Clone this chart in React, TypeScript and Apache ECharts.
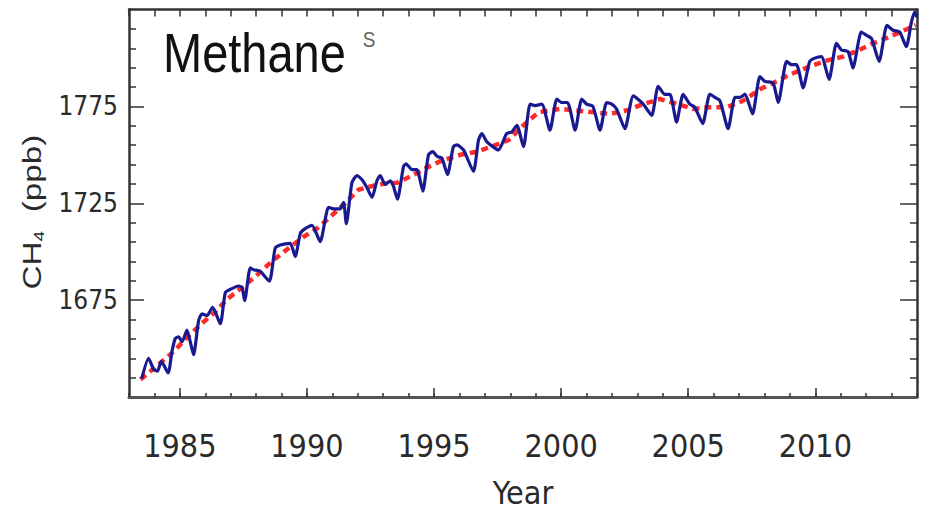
import React, { useEffect, useRef } from "react";
import * as echarts from "echarts";

// ---- data ----
const blueYears = [
  1983.5, 1983.77, 1983.97, 1984.12, 1984.27, 1984.54, 1984.69, 1984.82, 1984.95, 1985.09,
  1985.28, 1985.41, 1985.54, 1985.74, 1985.87, 1986.07, 1986.29, 1986.59, 1986.79, 1986.99,
  1987.31, 1987.45, 1987.55, 1987.77, 1987.9, 1988.16, 1988.52, 1988.75, 1988.95, 1989.34,
  1989.54, 1989.74, 1989.93, 1990.2, 1990.52, 1990.85, 1991.05, 1991.31, 1991.44, 1991.55,
  1991.77, 1991.97, 1992.16, 1992.36, 1992.56, 1992.75, 1992.88, 1993.08, 1993.28, 1993.4,
  1993.56, 1993.8, 1993.9, 1994.13, 1994.32, 1994.56, 1994.78, 1994.95, 1995.13, 1995.31,
  1995.53, 1995.76, 1995.9, 1996.16, 1996.55, 1996.75, 1996.88, 1997.08, 1997.53, 1997.86,
  1998.06, 1998.26, 1998.52, 1998.78, 1998.98, 1999.24, 1999.56, 1999.83, 2000.02, 2000.25,
  2000.55, 2000.81, 2001.0, 2001.25, 2001.53, 2001.79, 2001.99, 2002.18, 2002.51, 2002.84,
  2003.23, 2003.56, 2003.82, 2004.08, 2004.28, 2004.54, 2004.8, 2005.06, 2005.26, 2005.57,
  2005.85, 2006.05, 2006.25, 2006.57, 2006.84, 2007.03, 2007.23, 2007.53, 2007.82, 2008.02,
  2008.34, 2008.54, 2008.87, 2009.07, 2009.26, 2009.52, 2009.78, 2009.98, 2010.24, 2010.54,
  2010.83, 2011.03, 2011.29, 2011.48, 2011.81, 2012.01, 2012.21, 2012.51, 2012.82, 2013.06,
  2013.32, 2013.58, 2013.78, 2013.91, 2014.0,
];
const blueValues = [
  1634.5, 1645.0, 1639.2, 1638.3, 1643.4, 1637.4, 1648.5, 1655.2, 1656.1, 1653.5,
  1659.5, 1653.5, 1646.8, 1664.5, 1667.9, 1667.1, 1671.3, 1662.8, 1678.9, 1680.6,
  1682.3, 1681.4, 1674.7, 1691.6, 1690.7, 1689.9, 1684.8, 1701.7, 1703.4, 1704.3,
  1697.5, 1709.4, 1711.9, 1713.6, 1705.2, 1722.9, 1722.1, 1722.1, 1725.5, 1714.4,
  1735.6, 1739.3, 1737.3, 1733.1, 1728.0, 1736.5, 1739.3, 1734.7, 1736.5, 1733.9,
  1727.1, 1744.0, 1745.4, 1742.4, 1742.4, 1731.3, 1750.0, 1751.6, 1749.1, 1748.3,
  1739.8, 1754.2, 1755.1, 1752.5, 1741.5, 1757.6, 1761.0, 1756.7, 1752.5, 1761.0,
  1761.8, 1765.2, 1754.2, 1776.2, 1775.4, 1776.2, 1762.7, 1778.8, 1777.0, 1777.0,
  1762.7, 1778.8, 1776.2, 1775.0, 1762.7, 1777.0, 1776.2, 1773.7, 1763.5, 1780.4,
  1776.2, 1770.3, 1785.4, 1781.2, 1781.2, 1766.9, 1781.2, 1776.2, 1774.5, 1766.1,
  1781.3, 1779.6, 1777.9, 1763.5, 1779.6, 1779.6, 1781.3, 1771.1, 1790.4, 1787.9,
  1787.0, 1777.0, 1798.2, 1796.5, 1796.5, 1784.6, 1798.2, 1799.9, 1800.7, 1788.9,
  1807.5, 1804.1, 1803.3, 1794.8, 1813.4, 1811.7, 1810.0, 1798.2, 1816.8, 1814.3,
  1813.4, 1805.8, 1818.5, 1823.6, 1821.0,
];

const trendYears = [
  1983.45, 1984.0, 1984.76, 1985.3, 1985.87, 1986.4, 1986.86, 1987.5, 1988.04, 1988.62,
  1989.2, 1989.87, 1990.4, 1990.92, 1991.5, 1992.03, 1992.6, 1993.0, 1993.54, 1994.1,
  1994.65, 1995.3, 1996.03, 1996.68, 1997.2, 1997.93, 1998.5, 1999.11, 1999.96, 2000.9,
  2001.93, 2002.6, 2003.23, 2003.88, 2004.5, 2005.2, 2005.85, 2006.51, 2007.16, 2007.82,
  2008.48, 2009.0, 2009.78, 2010.4, 2011.09, 2011.7, 2012.27, 2012.92, 2013.64, 2013.95,
];
const trendValues = [
  1634, 1640, 1648.5, 1656, 1663, 1669, 1675.5, 1682, 1688, 1695,
  1701, 1707.7, 1712, 1718, 1725, 1732, 1734, 1735, 1735.6, 1739,
  1743, 1747, 1750, 1751.6, 1754, 1757.6, 1765, 1772, 1773.7, 1772.5,
  1771.1, 1773, 1776.2, 1778.8, 1776.5, 1773.7, 1774.5, 1774.5, 1777.9, 1783.8,
  1788, 1791.4, 1795.6, 1798.5, 1800.7, 1804, 1807.5, 1810.9, 1815.1, 1817,
];

const xMajorTicks = [1985, 1990, 1995, 2000, 2005, 2010];
const yMajorTicks = [1675, 1725, 1775];
const yMinorTicks = [
  1635, 1645, 1655, 1665, 1685, 1695, 1705, 1715, 1735, 1745,
  1755, 1765, 1785, 1795, 1805, 1815,
];

const X_MIN = 1983;
const X_MAX = 2014;
const Y_MIN = 1625;
const Y_MAX = 1825;

const NARROW = '"Liberation Sans Narrow", "Arial Narrow", "DejaVu Sans Condensed", sans-serif';
const SANS = '"Liberation Sans", Arial, Helvetica, sans-serif';

const plain = (v: number) => String(Math.round(v));

export default function App() {
  const ref = useRef<HTMLDivElement>(null);

  useEffect(() => {
    if (!ref.current) return;
    const chart = echarts.init(ref.current, null, { renderer: "svg" });

    const bluePairs = blueYears.map((y, i) => [y, blueValues[i]]);
    const trendPairs = trendYears.map((y, i) => [y, trendValues[i]]);

    const baseX = { type: "value" as const, min: X_MIN, max: X_MAX, splitLine: { show: false } };
    const baseY = { type: "value" as const, min: Y_MIN, max: Y_MAX, splitLine: { show: false } };

    chart.setOption({
      animation: false,
      backgroundColor: "#ffffff",
      grid: { left: 129, right: 10, top: 9.5, bottom: 111.5 },
      xAxis: [
        {
          ...baseX,
          position: "bottom",
          interval: 1,
          axisLine: { show: true, lineStyle: { color: "#555", width: 3 } },
          axisTick: { show: true, inside: true, length: 4, lineStyle: { color: "#333", width: 1.5 } },
          axisLabel: {
            show: true,
            customValues: xMajorTicks,
            formatter: plain,
            fontFamily: NARROW,
            fontSize: 32,
            color: "#2a2a2a",
            margin: 33,
          },
          name: "Year",
          nameLocation: "middle",
          nameGap: 80,
          nameTextStyle: { fontFamily: NARROW, fontSize: 32, color: "#2a2a2a" },
        },
        {
          ...baseX,
          position: "bottom",
          axisLine: { show: false },
          axisTick: {
            show: true,
            inside: true,
            length: 9,
            customValues: xMajorTicks,
            lineStyle: { color: "#333", width: 1.5 },
          },
          axisLabel: { show: false },
        },
        {
          ...baseX,
          position: "top",
          interval: 1,
          axisLine: { show: true, lineStyle: { color: "#333", width: 2.5 } },
          axisTick: { show: true, inside: true, length: 7, lineStyle: { color: "#333", width: 1.5 } },
          axisLabel: { show: false },
        },
      ],
      yAxis: [
        {
          ...baseY,
          position: "left",
          axisLine: { show: true, lineStyle: { color: "#333", width: 2.5 } },
          axisTick: {
            show: true,
            inside: true,
            length: 7,
            customValues: yMinorTicks,
            lineStyle: { color: "#333", width: 1.5 },
          },
          axisLabel: { show: false },
        },
        {
          ...baseY,
          position: "left",
          axisLine: { show: false },
          axisTick: {
            show: true,
            inside: true,
            length: 15,
            customValues: yMajorTicks,
            lineStyle: { color: "#333", width: 1.5 },
          },
          axisLabel: {
            show: true,
            customValues: yMajorTicks,
            formatter: plain,
            fontFamily: NARROW,
            fontSize: 26,
            color: "#2a2a2a",
            margin: 11,
          },
        },
        {
          ...baseY,
          position: "right",
          axisLine: { show: true, lineStyle: { color: "#333", width: 2.5 } },
          axisTick: {
            show: true,
            inside: true,
            length: 7,
            customValues: yMinorTicks,
            lineStyle: { color: "#333", width: 1.5 },
          },
          axisLabel: { show: false },
        },
        {
          ...baseY,
          position: "right",
          axisLine: { show: false },
          axisTick: {
            show: true,
            inside: true,
            length: 17,
            customValues: yMajorTicks,
            lineStyle: { color: "#333", width: 1.5 },
          },
          axisLabel: { show: false },
        },
      ],
      series: [
        {
          name: "trend",
          type: "line",
          xAxisIndex: 0,
          yAxisIndex: 0,
          data: trendPairs,
          showSymbol: false,
          silent: true,
          z: 2,
          lineStyle: { color: "#ff2a2a", width: 4.5, type: [7, 5] },
        },
        {
          name: "CH4",
          type: "line",
          xAxisIndex: 0,
          yAxisIndex: 0,
          data: bluePairs,
          showSymbol: false,
          silent: true,
          smooth: 0.2,
          z: 3,
          lineStyle: { color: "#1a1a90", width: 3.2 },
        },
      ],
      graphic: [
        {
          type: "text",
          x: 163,
          y: 53,
          scaleY: 1.17,
          z: 10,
          style: {
            text: "Methane",
            fontFamily: SANS,
            fontSize: 47,
            fill: "#111",
            align: "left",
            verticalAlign: "middle",
          },
        },
        {
          type: "text",
          x: 369,
          y: 39,
          scaleY: 1.2,
          z: 10,
          style: {
            text: "S",
            fontFamily: SANS,
            fontSize: 19,
            fill: "#666",
            align: "center",
            verticalAlign: "middle",
          },
        },
        {
          type: "text",
          x: 32,
          y: 212,
          rotation: Math.PI / 2,
          scaleX: 1.28,
          z: 10,
          style: {
            text: "CH{s|4}  (ppb)",
            fontFamily: SANS,
            fontSize: 26,
            fill: "#2a2a2a",
            align: "center",
            verticalAlign: "middle",
            rich: {
              s: { fontFamily: SANS, fontSize: 15, fill: "#2a2a2a", padding: [14, 0, 0, 0] },
            },
          },
        },
      ],
    });

    return () => chart.dispose();
  }, []);

  return (
    <div
      ref={ref}
      style={{ position: "absolute", left: 0, top: 0, width: 927, height: 514 }}
    />
  );
}
